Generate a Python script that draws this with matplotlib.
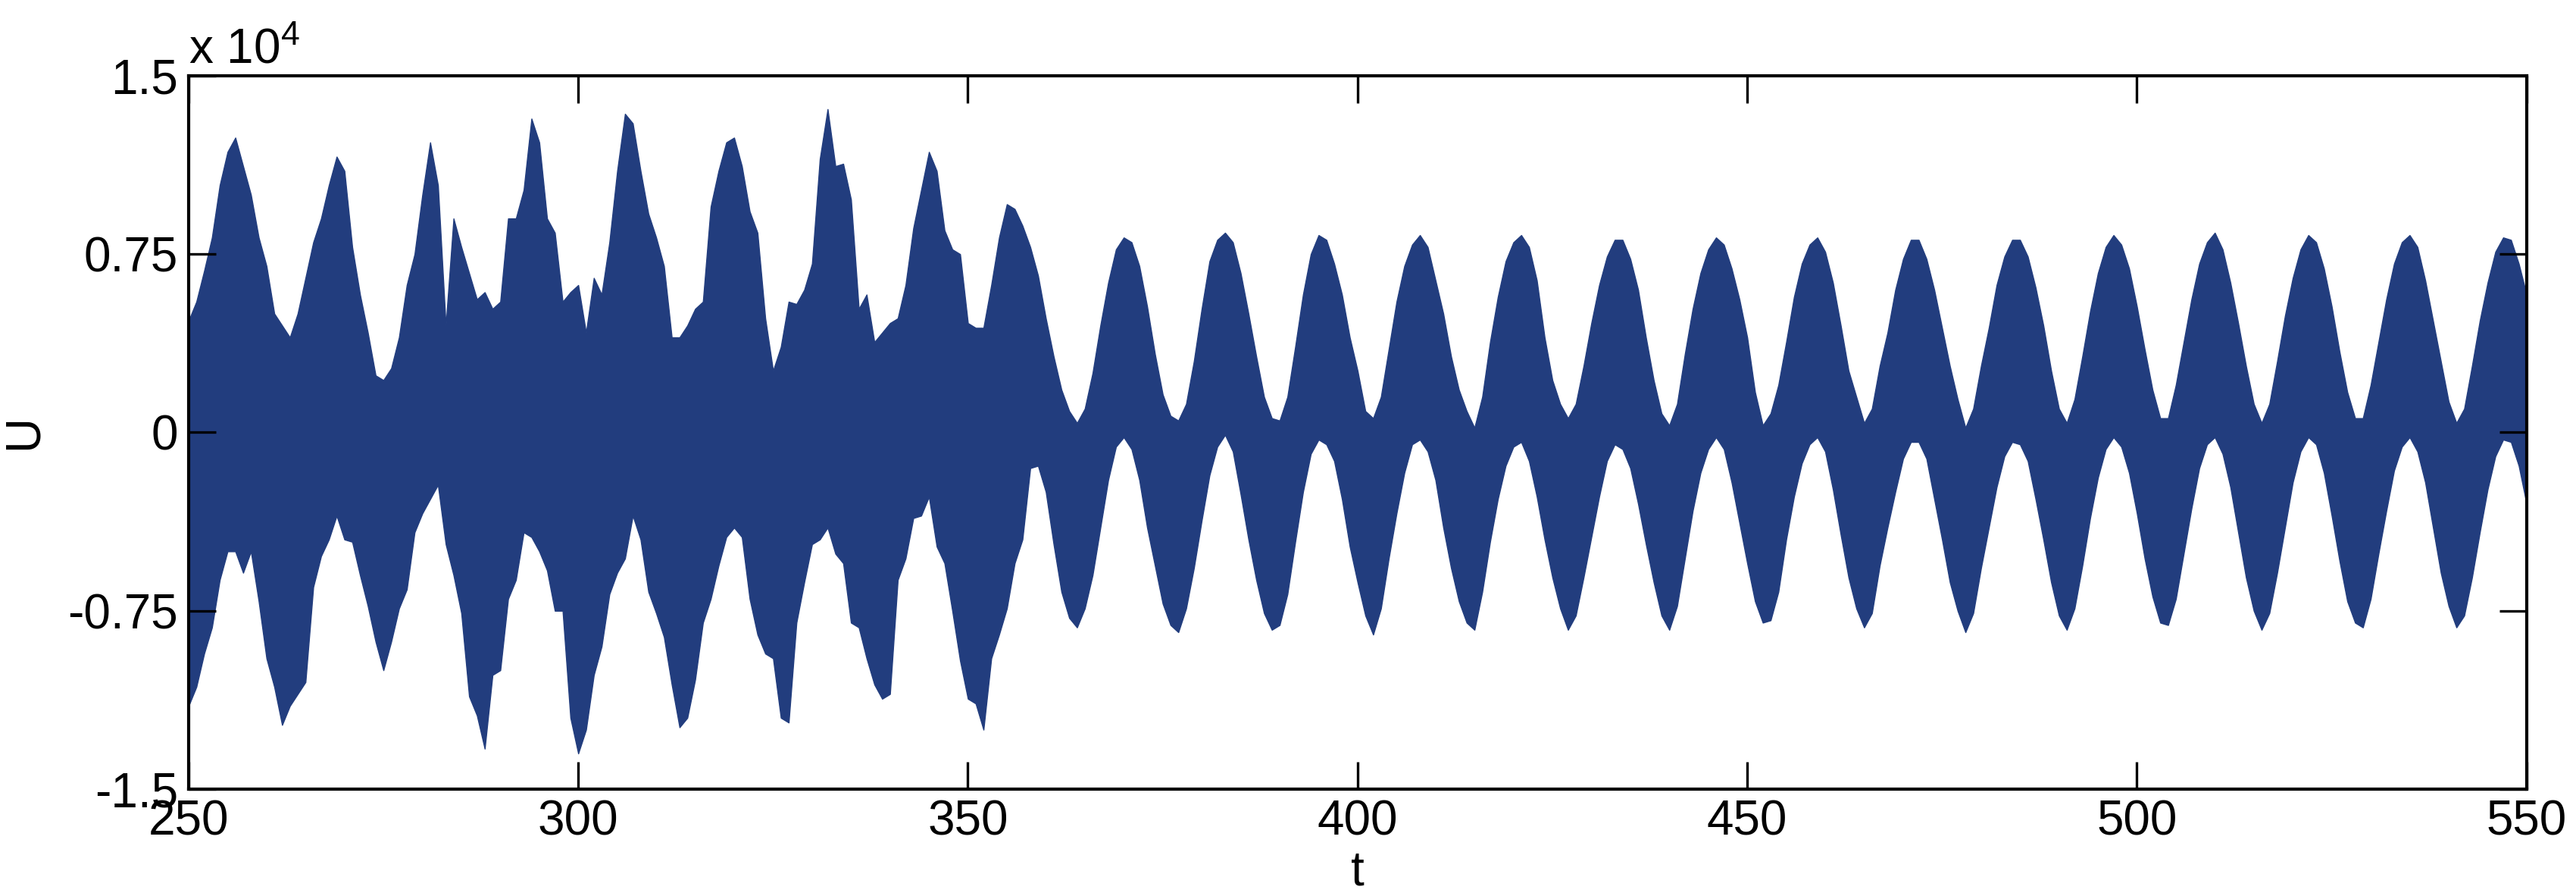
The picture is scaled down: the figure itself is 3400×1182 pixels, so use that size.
import numpy as np
import matplotlib
matplotlib.use("Agg")
import matplotlib.pyplot as plt

plt.rcParams['font.family'] = ['Liberation Sans', 'DejaVu Sans']
plt.rcParams['mathtext.fontset'] = 'custom'
plt.rcParams['mathtext.rm'] = 'Liberation Sans'
plt.rcParams['mathtext.it'] = 'Liberation Sans:italic'

# time grid, one sample per unit of t
t = np.arange(250, 551)

# upper edge of the signal band (units of 1e4)
u_upper = [
    0.47, 0.55, 0.68, 0.82, 1.04, 1.18, 1.24, 1.12, 1.00, 0.82,
    0.70, 0.50, 0.45, 0.40, 0.50, 0.65, 0.80, 0.90, 1.04, 1.16,
    1.10, 0.78, 0.58, 0.42, 0.24, 0.22, 0.27, 0.40, 0.62, 0.75,
    1.00, 1.22, 1.04, 0.45, 0.90, 0.78, 0.67, 0.56, 0.59, 0.52,
    0.55, 0.90, 0.90, 1.02, 1.32, 1.22, 0.90, 0.84, 0.55, 0.59,
    0.62, 0.42, 0.65, 0.58, 0.80, 1.10, 1.34, 1.30, 1.10, 0.92,
    0.82, 0.70, 0.40, 0.40, 0.45, 0.52, 0.55, 0.95, 1.10, 1.22,
    1.24, 1.12, 0.93, 0.84, 0.48, 0.26, 0.36, 0.55, 0.54, 0.60,
    0.71, 1.15, 1.36, 1.12, 1.13, 0.98, 0.52, 0.58, 0.38, 0.42,
    0.46, 0.48, 0.62, 0.86, 1.02, 1.18, 1.10, 0.85, 0.77, 0.75,
    0.46, 0.44, 0.44, 0.62, 0.82, 0.96, 0.94, 0.87, 0.78, 0.66,
    0.48, 0.32, 0.18, 0.09, 0.04, 0.10, 0.25, 0.45, 0.63, 0.77,
    0.82, 0.80, 0.70, 0.53, 0.33, 0.16, 0.07, 0.05, 0.12, 0.30,
    0.52, 0.72, 0.81, 0.84, 0.80, 0.67, 0.50, 0.32, 0.15, 0.06,
    0.05, 0.15, 0.36, 0.58, 0.75, 0.83, 0.81, 0.71, 0.58, 0.40,
    0.26, 0.09, 0.06, 0.15, 0.35, 0.55, 0.70, 0.79, 0.83, 0.78,
    0.64, 0.50, 0.32, 0.18, 0.09, 0.02, 0.15, 0.38, 0.57, 0.72,
    0.80, 0.83, 0.78, 0.64, 0.40, 0.22, 0.12, 0.06, 0.12, 0.28,
    0.46, 0.62, 0.74, 0.81, 0.81, 0.73, 0.60, 0.40, 0.22, 0.08,
    0.03, 0.12, 0.33, 0.52, 0.67, 0.77, 0.82, 0.79, 0.69, 0.56,
    0.40, 0.17, 0.03, 0.08, 0.20, 0.38, 0.57, 0.71, 0.79, 0.82,
    0.76, 0.63, 0.45, 0.26, 0.15, 0.04, 0.10, 0.28, 0.42, 0.60,
    0.73, 0.81, 0.81, 0.73, 0.60, 0.44, 0.28, 0.14, 0.02, 0.10,
    0.28, 0.44, 0.62, 0.74, 0.81, 0.81, 0.74, 0.61, 0.45, 0.26,
    0.10, 0.04, 0.14, 0.32, 0.51, 0.67, 0.78, 0.83, 0.79, 0.69,
    0.53, 0.35, 0.18, 0.06, 0.06, 0.20, 0.38, 0.56, 0.71, 0.80,
    0.84, 0.77, 0.63, 0.46, 0.28, 0.12, 0.04, 0.12, 0.30, 0.49,
    0.65, 0.77, 0.83, 0.80, 0.69, 0.53, 0.34, 0.17, 0.06, 0.06,
    0.20, 0.38, 0.56, 0.71, 0.80, 0.83, 0.78, 0.64, 0.47, 0.30,
    0.13, 0.04, 0.10, 0.28, 0.47, 0.63, 0.76, 0.82, 0.81, 0.71,
    0.58,
]

# lower edge of the signal band (units of 1e4)
u_lower = [
    -1.15, -1.07, -0.93, -0.82, -0.62, -0.50, -0.50, -0.59, -0.50, -0.71,
    -0.95, -1.07, -1.23, -1.15, -1.10, -1.05, -0.65, -0.52, -0.45, -0.35,
    -0.45, -0.46, -0.60, -0.73, -0.88, -1.00, -0.88, -0.74, -0.66, -0.42,
    -0.34, -0.28, -0.22, -0.47, -0.60, -0.76, -1.11, -1.19, -1.33, -1.02,
    -1.00, -0.70, -0.62, -0.42, -0.44, -0.50, -0.58, -0.75, -0.75, -1.20,
    -1.35, -1.25, -1.02, -0.90, -0.68, -0.59, -0.53, -0.35, -0.45, -0.67,
    -0.76, -0.86, -1.06, -1.24, -1.20, -1.04, -0.80, -0.70, -0.56, -0.44,
    -0.40, -0.44, -0.70, -0.85, -0.93, -0.95, -1.20, -1.22, -0.80, -0.63,
    -0.47, -0.45, -0.40, -0.51, -0.55, -0.80, -0.82, -0.95, -1.06, -1.12,
    -1.10, -0.62, -0.53, -0.36, -0.35, -0.27, -0.48, -0.55, -0.75, -0.96,
    -1.12, -1.14, -1.25, -0.95, -0.85, -0.74, -0.55, -0.45, -0.15, -0.14,
    -0.25, -0.47, -0.67, -0.78, -0.82, -0.74, -0.60, -0.40, -0.20, -0.06,
    -0.02, -0.07, -0.20, -0.40, -0.56, -0.72, -0.81, -0.84, -0.74, -0.57,
    -0.37, -0.18, -0.06, -0.01, -0.08, -0.26, -0.45, -0.62, -0.76, -0.83,
    -0.81, -0.68, -0.46, -0.25, -0.09, -0.03, -0.05, -0.12, -0.28, -0.48,
    -0.63, -0.77, -0.85, -0.74, -0.53, -0.34, -0.17, -0.05, -0.03, -0.08,
    -0.20, -0.40, -0.57, -0.71, -0.80, -0.83, -0.67, -0.46, -0.28, -0.14,
    -0.06, -0.04, -0.12, -0.27, -0.45, -0.61, -0.74, -0.83, -0.77, -0.61,
    -0.44, -0.27, -0.12, -0.05, -0.07, -0.15, -0.30, -0.47, -0.63, -0.77,
    -0.83, -0.73, -0.53, -0.33, -0.17, -0.07, -0.02, -0.07, -0.21, -0.38,
    -0.55, -0.71, -0.80, -0.79, -0.67, -0.45, -0.27, -0.13, -0.05, -0.02,
    -0.08, -0.24, -0.43, -0.61, -0.74, -0.82, -0.76, -0.56, -0.40, -0.25,
    -0.11, -0.04, -0.04, -0.11, -0.28, -0.45, -0.63, -0.75, -0.84, -0.76,
    -0.57, -0.40, -0.23, -0.10, -0.04, -0.05, -0.12, -0.28, -0.45, -0.63,
    -0.77, -0.83, -0.74, -0.56, -0.36, -0.19, -0.07, -0.02, -0.06, -0.17,
    -0.34, -0.53, -0.69, -0.80, -0.81, -0.70, -0.51, -0.32, -0.15, -0.05,
    -0.02, -0.09, -0.23, -0.42, -0.61, -0.75, -0.83, -0.76, -0.59, -0.40,
    -0.21, -0.08, -0.02, -0.05, -0.17, -0.35, -0.54, -0.71, -0.80, -0.82,
    -0.70, -0.51, -0.33, -0.16, -0.06, -0.02, -0.08, -0.21, -0.40, -0.59,
    -0.73, -0.82, -0.77, -0.61, -0.42, -0.24, -0.10, -0.03, -0.04, -0.14,
    -0.30,
]

x_ticks = [250, 300, 350, 400, 450, 500, 550]
y_ticks = [-1.5, -0.75, 0, 0.75, 1.5]
y_ticklabels = ['-1.5', '-0.75', '0', '0.75', '1.5']

fig = plt.figure(figsize=(34, 11.82), dpi=100)
ax = fig.add_axes([0.0732, 0.1193, 0.9076, 0.7961])

ax.fill_between(t, u_lower, u_upper, color='#223D7E', linewidth=1.0,
                edgecolor='#223D7E')

ax.set_xlim(250, 550)
ax.set_ylim(-1.5, 1.5)
ax.set_xticks(x_ticks)
ax.set_yticks(y_ticks)
ax.set_yticklabels(y_ticklabels)

ax.tick_params(direction='in', length=26, width=2.4, labelsize=46,
               top=True, right=True, pad=10)
for sp in ax.spines.values():
    sp.set_linewidth(3)

ax.set_xlabel('t', fontsize=46, labelpad=4)
ax.set_ylabel('U', fontsize=46, labelpad=20)

# MATLAB style exponent above the axes
ax.text(0.0, 1.004, r'x 10$^{4}$', transform=ax.transAxes, fontsize=46,
        ha='left', va='bottom')

fig.savefig('out.png', dpi=100)
